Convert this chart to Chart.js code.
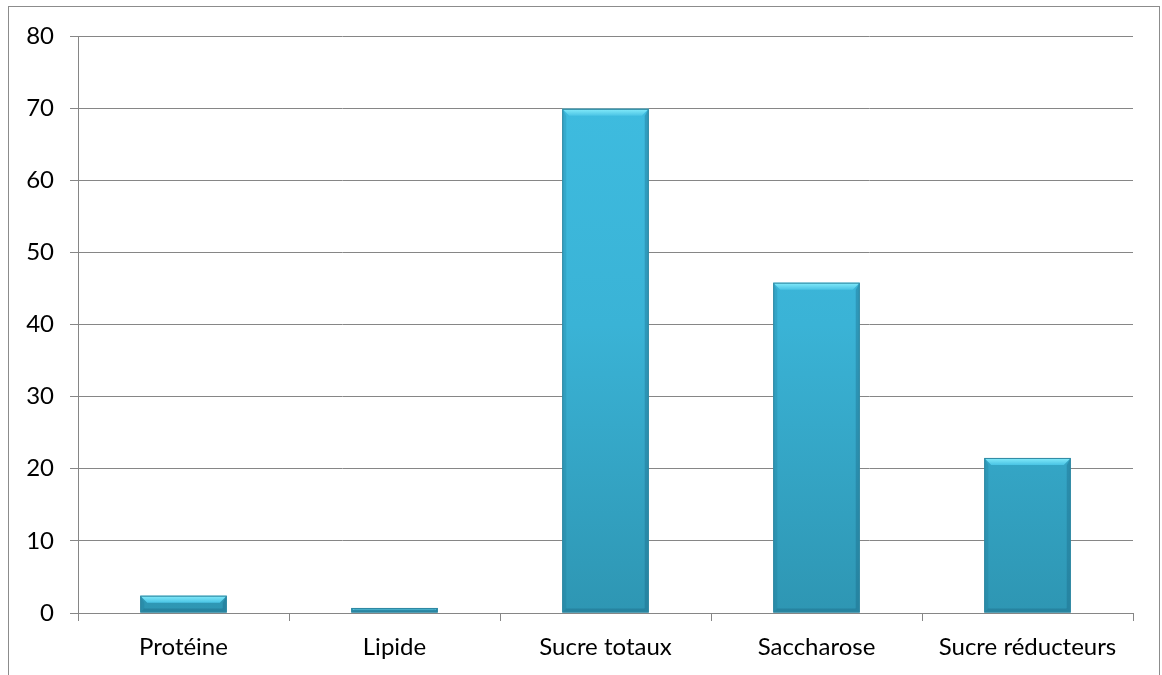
<!DOCTYPE html>
<html>
<head>
<meta charset="utf-8">
<script src="https://cdn.jsdelivr.net/npm/chart.js@4/dist/chart.umd.min.js"></script>
<style>
  html, body { margin: 0; padding: 0; background: #fff; }
  #wrap { width: 1162px; height: 675px; }
</style>
</head>
<body>
<div id="wrap"><canvas id="chart"></canvas></div>
<script>
var categories = ['Protéine', 'Lipide', 'Sucre totaux', 'Saccharose', 'Sucre réducteurs'];
var values = [2.4, 0.7, 69.9, 45.8, 21.5];
var yTicks = [0, 10, 20, 30, 40, 50, 60, 70, 80];

// outer frame around the chart
var framePlugin = {
    id: 'frame',
    beforeDraw: function (chart) {
        var ctx = chart.ctx;
        ctx.save();
        ctx.strokeStyle = '#8c8c8c';
        ctx.lineWidth = 1;
        ctx.strokeRect(8.5, 6.5, 1151, 720);
        ctx.restore();
    }
};

// bevel on the bars, Excel style
var bevelPlugin = {
    id: 'bevel',
    afterDatasetsDraw: function (chart) {
        var ctx = chart.ctx;
        var meta = chart.getDatasetMeta(0);
        meta.data.forEach(function (bar) {
            var p = bar.getProps(['x', 'y', 'base', 'width'], true);
            var l = p.x - p.width / 2, r = p.x + p.width / 2;
            var t = p.y, b = p.base;
            var d = Math.min(7, (b - t) / 2);
            ctx.save();
            // top
            var g = ctx.createLinearGradient(0, t, 0, t + d);
            g.addColorStop(0, '#86ecfb');
            g.addColorStop(1, '#4ac4e5');
            ctx.fillStyle = g;
            ctx.beginPath();
            ctx.moveTo(l, t); ctx.lineTo(r, t); ctx.lineTo(r - d, t + d); ctx.lineTo(l + d, t + d);
            ctx.closePath(); ctx.fill();
            // left
            ctx.fillStyle = 'rgba(20,100,130,0.18)';
            ctx.beginPath();
            ctx.moveTo(l, t); ctx.lineTo(l + 4, t + d); ctx.lineTo(l + 4, b - 4); ctx.lineTo(l, b);
            ctx.closePath(); ctx.fill();
            // right
            ctx.fillStyle = 'rgba(20,90,120,0.3)';
            ctx.beginPath();
            ctx.moveTo(r, t); ctx.lineTo(r - 4, t + d); ctx.lineTo(r - 4, b - 4); ctx.lineTo(r, b);
            ctx.closePath(); ctx.fill();
            // bottom
            ctx.fillStyle = 'rgba(20,90,115,0.3)';
            ctx.beginPath();
            ctx.moveTo(l, b); ctx.lineTo(l + 4, b - 4); ctx.lineTo(r - 4, b - 4); ctx.lineTo(r, b);
            ctx.closePath(); ctx.fill();
            ctx.strokeStyle = '#2d86a0';
            ctx.lineWidth = 1;
            ctx.strokeRect(l + 0.5, t + 0.5, r - l - 1, b - t - 1);
            ctx.restore();
        });
    }
};

var chartElement = document.getElementById('chart');

new Chart(chartElement, {
    type: 'bar',
    data: {
        labels: categories,
        datasets: [{
            data: values,
            borderWidth: 0,
            backgroundColor: function (context) {
                var area = context.chart.chartArea;
                if (!area) return '#3cb9dd';
                var g = context.chart.ctx.createLinearGradient(0, area.top, 0, area.bottom);
                g.addColorStop(0, '#3fbee2');
                g.addColorStop(0.5, '#3ab3d6');
                g.addColorStop(1, '#2e96b3');
                return g;
            },
            categoryPercentage: 1,
            barPercentage: 0.41
        }]
    },
    options: {
        responsive: true,
        maintainAspectRatio: false,
        animation: false,
        layout: {
            padding: { top: 36, right: 29, left: 0, bottom: 0 }
        },
        plugins: {
            legend: { display: false },
            tooltip: { enabled: false }
        },
        scales: {
            x: {
                offset: true,
                grid: {
                    offset: true,
                    drawOnChartArea: false,
                    color: '#868686',
                    tickLength: 8
                },
                border: { color: '#868686' },
                ticks: {
                    color: '#000',
                    font: { family: 'Lato', size: 24 },
                    padding: 12,
                    maxRotation: 0
                },
                afterFit: function (scale) { scale.height = 62; }
            },
            y: {
                min: 0,
                max: 80,
                afterBuildTicks: function (scale) {
                    scale.ticks = yTicks.map(function (v) { return { value: v }; });
                },
                grid: {
                    color: '#868686',
                    tickLength: 8
                },
                border: { color: '#868686' },
                ticks: {
                    color: '#000',
                    font: { family: 'Lato', size: 24 },
                    padding: 16
                },
                afterFit: function (scale) { scale.width = 78; }
            }
        }
    },
    plugins: [framePlugin, bevelPlugin]
});
</script>
</body>
</html>
